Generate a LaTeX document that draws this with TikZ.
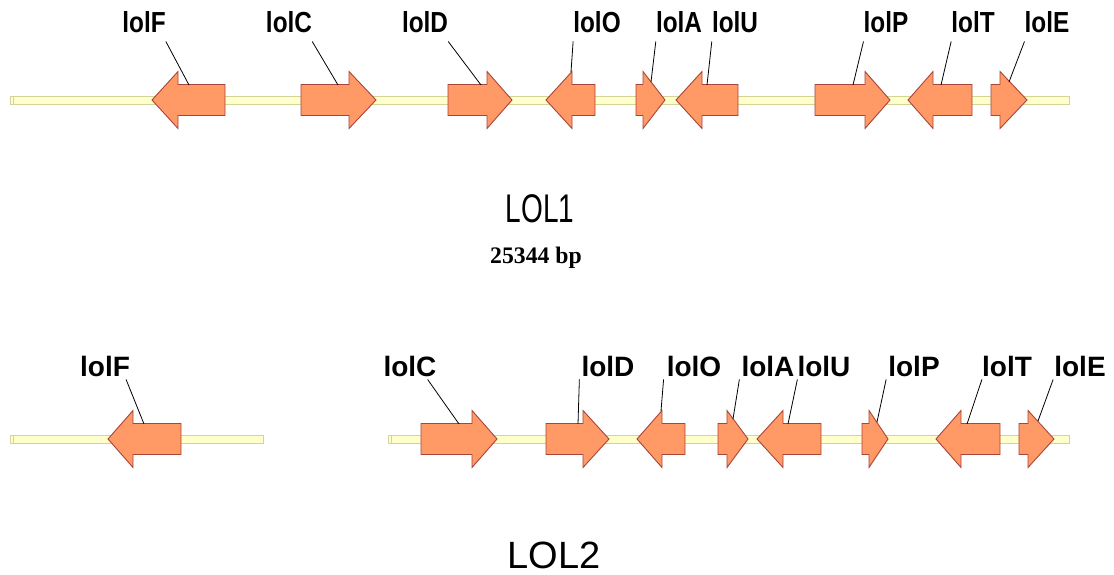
\documentclass[tikz,border=0pt]{standalone}
\usepackage{fontspec}
\usepackage{graphicx}
\setmainfont{Liberation Sans}
\newfontfamily\serifbold{Liberation Serif}
\definecolor{genefill}{HTML}{FF9966}
\definecolor{genedraw}{HTML}{A8453A}
\definecolor{bbfill}{HTML}{FFFFCC}
\definecolor{bbdraw}{HTML}{D4D49A}
\newcommand\generight[4]{% left, headbase, tip, cy
  \draw[genebox] (#1,#4-15.5) -- (#2,#4-15.5) -- (#2,#4-28.5) -- (#3,#4) -- (#2,#4+28.5) -- (#2,#4+15.5) -- (#1,#4+15.5) -- cycle;}
\newcommand\geneleft[4]{% tip, headbase, right, cy
  \draw[genebox] (#3,#4-15.5) -- (#2,#4-15.5) -- (#2,#4-28.5) -- (#1,#4) -- (#2,#4+28.5) -- (#2,#4+15.5) -- (#3,#4+15.5) -- cycle;}
\newcommand\backbone[3]{% x1, x2, cy
  \draw[bbbox] (#1,#3-4) rectangle (#2,#3+4);
  \draw[bbdraw, line width=0.6pt] (#1+3,#3-4) -- (#1+3,#3+4);}
\tikzset{
  genebox/.style={fill=genefill, draw=genedraw, line width=0.9pt, line join=miter},
  bbbox/.style={fill=bbfill, draw=bbdraw, line width=0.9pt},
  toplab/.style={anchor=base, inner xsep=0pt, inner ysep=8pt, font=\fontsize{29}{30}\selectfont\bfseries},
  botlab/.style={anchor=base, inner xsep=0pt, inner ysep=3pt, font=\fontsize{28}{30}\selectfont\bfseries},
  conn/.style={draw=black, line width=0.8pt}
}
\begin{document}
\begin{tikzpicture}[x=1pt,y=-1pt]
\useasboundingbox (0,0) rectangle (1114,575);
% ---------------- LOL1 ----------------
\backbone{10}{1069}{100}
\geneleft{152}{178}{225}{100}
\generight{301}{349}{376}{100}
\generight{448}{487}{512}{100}
\geneleft{546}{572}{595}{100}
\generight{636}{643}{665}{100}
\geneleft{676}{702}{738}{100}
\generight{815}{865}{890}{100}
\geneleft{908}{933}{972}{100}
\generight{991}{1000}{1027}{100}

\node[toplab] (tF) at (144,33) {\scalebox{0.84}[1]{lolF}};
\node[toplab] (tC) at (289,33) {\scalebox{0.84}[1]{lolC}};
\node[toplab] (tD) at (425,33) {\scalebox{0.84}[1]{lolD}};
\node[toplab] (tO) at (597,33) {\scalebox{0.84}[1]{lolO}};
\node[toplab] (tA) at (679,33) {\scalebox{0.84}[1]{lolA}};
\node[toplab] (tU) at (735,33) {\scalebox{0.84}[1]{lolU}};
\node[toplab] (tP) at (886,33) {\scalebox{0.84}[1]{lolP}};
\node[toplab] (tT) at (973,33) {\scalebox{0.84}[1]{lolT}};
\node[toplab] (tE) at (1047,33) {\scalebox{0.84}[1]{lolE}};

\coordinate (gtF) at (189,85);
\coordinate (gtC) at (338,85);
\coordinate (gtD) at (481,85);
\coordinate (gtO) at (571,72);
\coordinate (gtA) at (651,82);
\coordinate (gtU) at (707,85);
\coordinate (gtP) at (853,85);
\coordinate (gtT) at (941,85);
\coordinate (gtE) at (1009,82);

\draw[conn] (tF.south east) -- (gtF);
\draw[conn] (tC.south east) -- (gtC);
\draw[conn] (tD.south east) -- (gtD);
\draw[conn] (tO.south west) -- (gtO);
\draw[conn] (tA.south west) -- (gtA);
\draw[conn] (tU.south west) -- (gtU);
\draw[conn] (tP.south west) -- (gtP);
\draw[conn] (tT.south west) -- (gtT);
\draw[conn] (tE.south west) -- (gtE);

\node[anchor=base, inner sep=0pt, font=\fontsize{40}{42}\selectfont] (lol1) at (540,222) {\scalebox{0.7}[1]{LOL1}};
\node[anchor=base, inner sep=0pt, font=\fontsize{23.7}{25}\selectfont\serifbold\bfseries] (bp) at (536,263) {25344 bp};

% ---------------- LOL2 ----------------
\backbone{10}{263}{439}
\backbone{388}{1069}{439}
\geneleft{108}{133}{181}{439}
\generight{421}{472}{497}{439}
\generight{546}{583}{609}{439}
\geneleft{637}{662}{685}{439}
\generight{718}{727}{748}{439}
\geneleft{757}{783}{821}{439}
\generight{862}{869}{888}{439}
\geneleft{936}{961}{1000}{439}
\generight{1019}{1028}{1054}{439}

\node[botlab] (bF) at (105,376) {lolF};
\node[botlab] (bC) at (410,376) {lolC};
\node[botlab] (bD) at (608,376) {lolD};
\node[botlab] (bO) at (694,376) {lolO};
\node[botlab] (bA) at (768,376) {lolA};
\node[botlab] (bU) at (824,376) {lolU};
\node[botlab] (bP) at (914,376) {lolP};
\node[botlab] (bT) at (1007,376) {lolT};
\node[botlab] (bE) at (1080,376) {lolE};

\coordinate (gbF) at (144,424);
\coordinate (gbC) at (459,424);
\coordinate (gbD) at (578,424);
\coordinate (gbO) at (661,411);
\coordinate (gbA) at (733,419);
\coordinate (gbU) at (788,424);
\coordinate (gbP) at (877,422);
\coordinate (gbT) at (967,424);
\coordinate (gbE) at (1038,421);

\draw[conn] ([xshift=-4pt]bF.south east) -- (gbF);
\draw[conn] ([xshift=-9pt]bC.south east) -- (gbC);
\draw[conn] ([xshift=-2pt]bD.south west) -- (gbD);
\draw[conn] ([xshift=-3pt]bO.south west) -- (gbO);
\draw[conn] ([xshift=-2pt]bA.south west) -- (gbA);
\draw[conn] (bU.south west) -- (gbU);
\draw[conn] ([xshift=-2pt]bP.south west) -- (gbP);
\draw[conn] (bT.south west) -- (gbT);
\draw[conn] ([xshift=-1pt]bE.south west) -- (gbE);

\node[anchor=base, inner sep=0pt, font=\fontsize{38}{40}\selectfont] (lol2) at (554,568) {LOL2};
\end{tikzpicture}
\end{document}
